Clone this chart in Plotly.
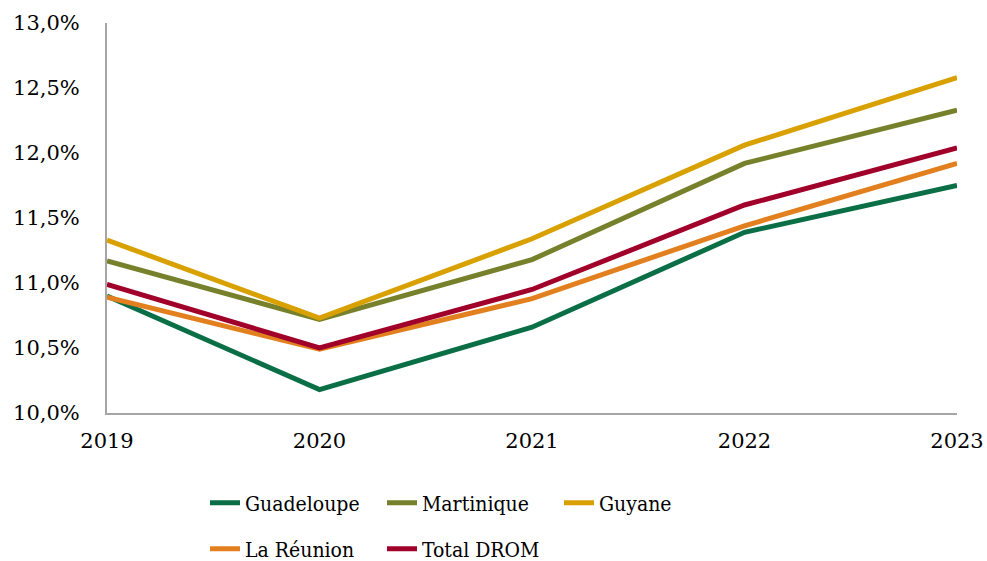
import plotly.graph_objects as go

years = ["2019", "2020", "2021", "2022", "2023"]

guadeloupe = [0.1090, 0.1018, 0.1066, 0.1139, 0.1175]
martinique = [0.1117, 0.1072, 0.1118, 0.1192, 0.1233]
guyane = [0.1133, 0.1073, 0.1134, 0.1206, 0.1258]
la_reunion = [0.1089, 0.1049, 0.1088, 0.1144, 0.1192]
total_drom = [0.1099, 0.1050, 0.1095, 0.1160, 0.1204]

series = [
    ("Guadeloupe", guadeloupe, "#0a6e46", "legend"),
    ("Martinique", martinique, "#77802a", "legend"),
    ("Guyane", guyane, "#d9a100", "legend"),
    ("La Réunion", la_reunion, "#e2801f", "legend2"),
    ("Total DROM", total_drom, "#a0002a", "legend2"),
]

tick_font = dict(family="DejaVu Serif", size=21, color="black")
leg_font = dict(family="DejaVu Serif Condensed, Liberation Serif", size=21, color="black")

fig = go.Figure()
for name, vals, color, leg in series:
    fig.add_trace(go.Scatter(
        x=years, y=vals, name=name, mode="lines",
        line=dict(color=color, width=5),
        legend=leg,
    ))

W, H = 987, 561
fig.update_layout(
    width=W, height=H,
    margin=dict(l=107, r=30, t=23, b=148, autoexpand=False),
    plot_bgcolor="white", paper_bgcolor="white",
    separators=", ",
    font=tick_font,
    showlegend=True,
    legend=dict(orientation="h", xref="container", x=205 / W, xanchor="left",
                yref="container", y=58 / H, yanchor="middle",
                entrywidth=132, entrywidthmode="pixels", traceorder="normal",
                font=leg_font),
    legend2=dict(orientation="h", xref="container", x=205 / W, xanchor="left",
                 yref="container", y=12 / H, yanchor="middle",
                 entrywidth=132, entrywidthmode="pixels", traceorder="normal",
                 font=leg_font),
)

fig.update_xaxes(
    type="category", range=[0, 4],
    showline=True, linecolor="#a6a6a6", linewidth=2,
    showgrid=False, ticks="", ticklabelstandoff=8,
)
fig.update_yaxes(
    range=[0.10, 0.13], tickvals=[0.10, 0.105, 0.11, 0.115, 0.12, 0.125, 0.13],
    tickformat=".1%",
    showline=True, linecolor="#a6a6a6", linewidth=2,
    showgrid=False, zeroline=False, ticks="", ticklabelstandoff=21,
)

# drop the default page margin so the figure fills the window exactly
fig.write_html(
    "out.html",
    config={"displayModeBar": False},
    post_script="document.body.style.margin='0';document.body.style.overflow='hidden';",
)
